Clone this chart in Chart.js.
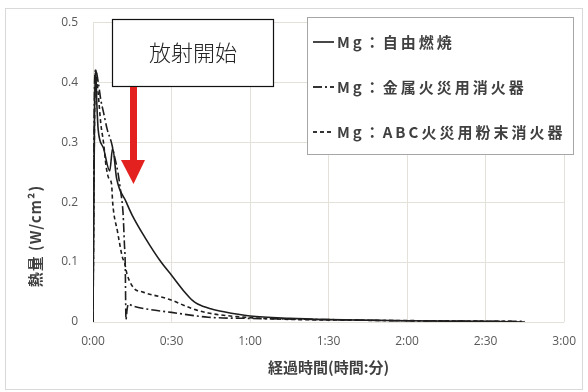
<!DOCTYPE html>
<html>
<head>
<meta charset="utf-8">
<script src="https://cdn.jsdelivr.net/npm/chart.js@4"></script>
<style>
  html, body { margin: 0; padding: 0; background: #fff; }
  #wrap { width: 588px; height: 392px; position: relative; }
</style>
</head>
<body>
<div id="wrap"><canvas id="chart" width="588" height="392"></canvas></div>
<script>
// --- データ (x: 経過時間[分], y: 熱量[W/cm²]) ---
const SERIES_LABELS = ['Mg：自由燃焼', 'Mg：金属火災用消火器', 'Mg：ABC火災用粉末消火器'];
const X_TICKS = [0, 30, 60, 90, 120, 150, 180];
const Y_TITLE = '熱量 (W/cm²)';

const freeTime = [0, 0.6, 1.0, 1.5, 2.0, 4.0, 6.4, 7.5, 9.0, 12.7, 15, 20, 26, 30, 35, 38, 40, 45, 50, 60, 75, 90, 120, 150, 165];
const freeHeat = [0, 0.35, 0.42, 0.36, 0.32, 0.29, 0.252, 0.29, 0.24, 0.2, 0.178, 0.14, 0.1, 0.078, 0.05, 0.036, 0.03, 0.022, 0.017, 0.01, 0.006, 0.004, 0.002, 0.001, 0];

const metalTime = [0, 0.6, 1.0, 2, 3, 4, 5.5, 7, 8, 9.5, 10.5, 11.5, 12.0, 12.3, 12.6, 13.0, 13.5, 15, 20, 30, 44, 60, 90, 120, 165];
const metalHeat = [0, 0.4, 0.42, 0.4, 0.37, 0.35, 0.32, 0.3, 0.28, 0.25, 0.22, 0.18, 0.13, 0.1, 0.004, 0.02, 0.03, 0.027, 0.022, 0.016, 0.008, 0.006, 0.004, 0.002, 0.001];

const abcTime = [0, 0.5, 1.0, 2, 3, 4, 5, 6, 7.1, 7.5, 9.4, 11.3, 12, 13, 15.5, 19, 29, 37.5, 44, 55, 70, 100, 130, 160];
const abcHeat = [0, 0.3, 0.42, 0.38, 0.33, 0.3, 0.26, 0.24, 0.23, 0.2, 0.15, 0.107, 0.1, 0.08, 0.057, 0.05, 0.038, 0.023, 0.015, 0.009, 0.005, 0.003, 0.002, 0.001];

function toPoints(xs, ys) {
  return xs.map((x, i) => ({ x: x, y: ys[i] }));
}

const LINE_COLOR = '#1e1e1e';
const DASHES = [[], [9, 3, 2, 3], [4, 3]];

// --- 注記・凡例・枠を描くプラグイン ---
const overlayPlugin = {
  id: 'overlay',
  beforeDraw(chart) {
    const ctx = chart.ctx;
    ctx.save();
    ctx.fillStyle = '#fff';
    ctx.fillRect(0, 0, chart.width, chart.height);
    ctx.strokeStyle = '#d9d9d9';
    ctx.lineWidth = 1;
    ctx.strokeRect(5.5, 8.5, 577, 381);

    // 縦軸タイトル
    ctx.translate(35, (chart.chartArea.top + chart.chartArea.bottom) / 2 + 64);
    ctx.rotate(-Math.PI / 2);
    ctx.fillStyle = '#404040';
    ctx.font = 'bold 15px "Noto Sans CJK JP"';
    ctx.letterSpacing = '1px';
    ctx.textAlign = 'center';
    ctx.textBaseline = 'middle';
    ctx.fillText(Y_TITLE, 0, 0);
    ctx.restore();
  },
  afterDatasetsDraw(chart) {
    const ctx = chart.ctx;
    ctx.save();

    // 凡例
    ctx.fillStyle = '#fff';
    ctx.fillRect(307, 17, 267, 138);
    ctx.strokeStyle = '#a6a6a6';
    ctx.lineWidth = 1;
    ctx.strokeRect(307.5, 17.5, 266, 137);
    const rows = [42, 87, 132];
    ctx.font = 'bold 15px "Noto Sans CJK JP"';
    ctx.letterSpacing = '3px';
    ctx.textBaseline = 'middle';
    SERIES_LABELS.forEach((label, i) => {
      ctx.strokeStyle = '#333';
      ctx.lineWidth = 1.8;
      ctx.setLineDash(DASHES[i]);
      ctx.beginPath();
      ctx.moveTo(313, rows[i]);
      ctx.lineTo(334, rows[i]);
      ctx.stroke();
      ctx.setLineDash([]);
      ctx.fillStyle = '#404040';
      ctx.fillText(label, 337, rows[i]);
    });
    ctx.letterSpacing = '0px';

    // 放射開始 の箱
    ctx.fillStyle = '#fff';
    ctx.fillRect(112, 19, 162, 68);
    ctx.strokeStyle = '#111';
    ctx.lineWidth = 1.2;
    ctx.strokeRect(112.5, 19.5, 161, 67);
    ctx.fillStyle = '#222';
    ctx.font = '300 22px "Noto Sans CJK JP"';
    ctx.textAlign = 'center';
    ctx.fillText('放射開始', 193, 53);

    // 赤い矢印
    ctx.fillStyle = '#e3211f';
    ctx.fillRect(130, 87, 7, 75);
    ctx.beginPath();
    ctx.moveTo(121, 160);
    ctx.lineTo(145, 160);
    ctx.lineTo(133.5, 184);
    ctx.closePath();
    ctx.fill();
    ctx.restore();
  }
};

function fmtTime(v) {
  const h = Math.floor(v / 60);
  const m = Math.round(v % 60);
  return h + ':' + (m < 10 ? '0' + m : m);
}

const chart = new Chart(document.getElementById('chart'), {
  type: 'line',
  data: {
    datasets: [
      { label: SERIES_LABELS[0], data: toPoints(freeTime, freeHeat), borderDash: DASHES[0] },
      { label: SERIES_LABELS[1], data: toPoints(metalTime, metalHeat), borderDash: DASHES[1] },
      { label: SERIES_LABELS[2], data: toPoints(abcTime, abcHeat), borderDash: DASHES[2] },
    ].map((d) => Object.assign(d, {
      borderColor: LINE_COLOR,
      borderWidth: 1.6,
      pointRadius: 0,
      fill: false,
      cubicInterpolationMode: 'monotone',
    })),
  },
  options: {
    responsive: false,
    animation: false,
    layout: { padding: { top: 17, right: 16, left: 0, bottom: 12 } },
    plugins: { legend: { display: false }, tooltip: { enabled: false } },
    scales: {
      x: {
        type: 'linear',
        min: 0,
        max: 180,
        afterBuildTicks: (s) => { s.ticks = X_TICKS.map((v) => ({ value: v })); },
        afterFit: (s) => { s.height = 58; },
        grid: { color: '#e4e1da', drawTicks: false },
        border: { display: false },
        ticks: {
          color: '#595959',
          padding: 12,
          font: { family: 'Open Sans', size: 12 },
          callback: (v) => fmtTime(v),
        },
        title: {
          display: true,
          text: '経過時間(時間:分)',
          color: '#404040',
          font: { family: 'Noto Sans CJK JP', size: 15, weight: 'bold' },
          padding: { top: 4 },
        },
      },
      y: {
        min: 0,
        max: 0.5,
        afterFit: (s) => { s.width = 93; },
        grid: { color: '#e4e1da', drawTicks: false },
        border: { display: false },
        ticks: {
          stepSize: 0.1,
          color: '#595959',
          padding: 15,
          font: { family: 'Open Sans', size: 12 },
          callback: (v) => (v === 0 ? '0' : v.toFixed(1)),
        },
      },
    },
  },
  plugins: [overlayPlugin],
});
</script>
</body>
</html>
